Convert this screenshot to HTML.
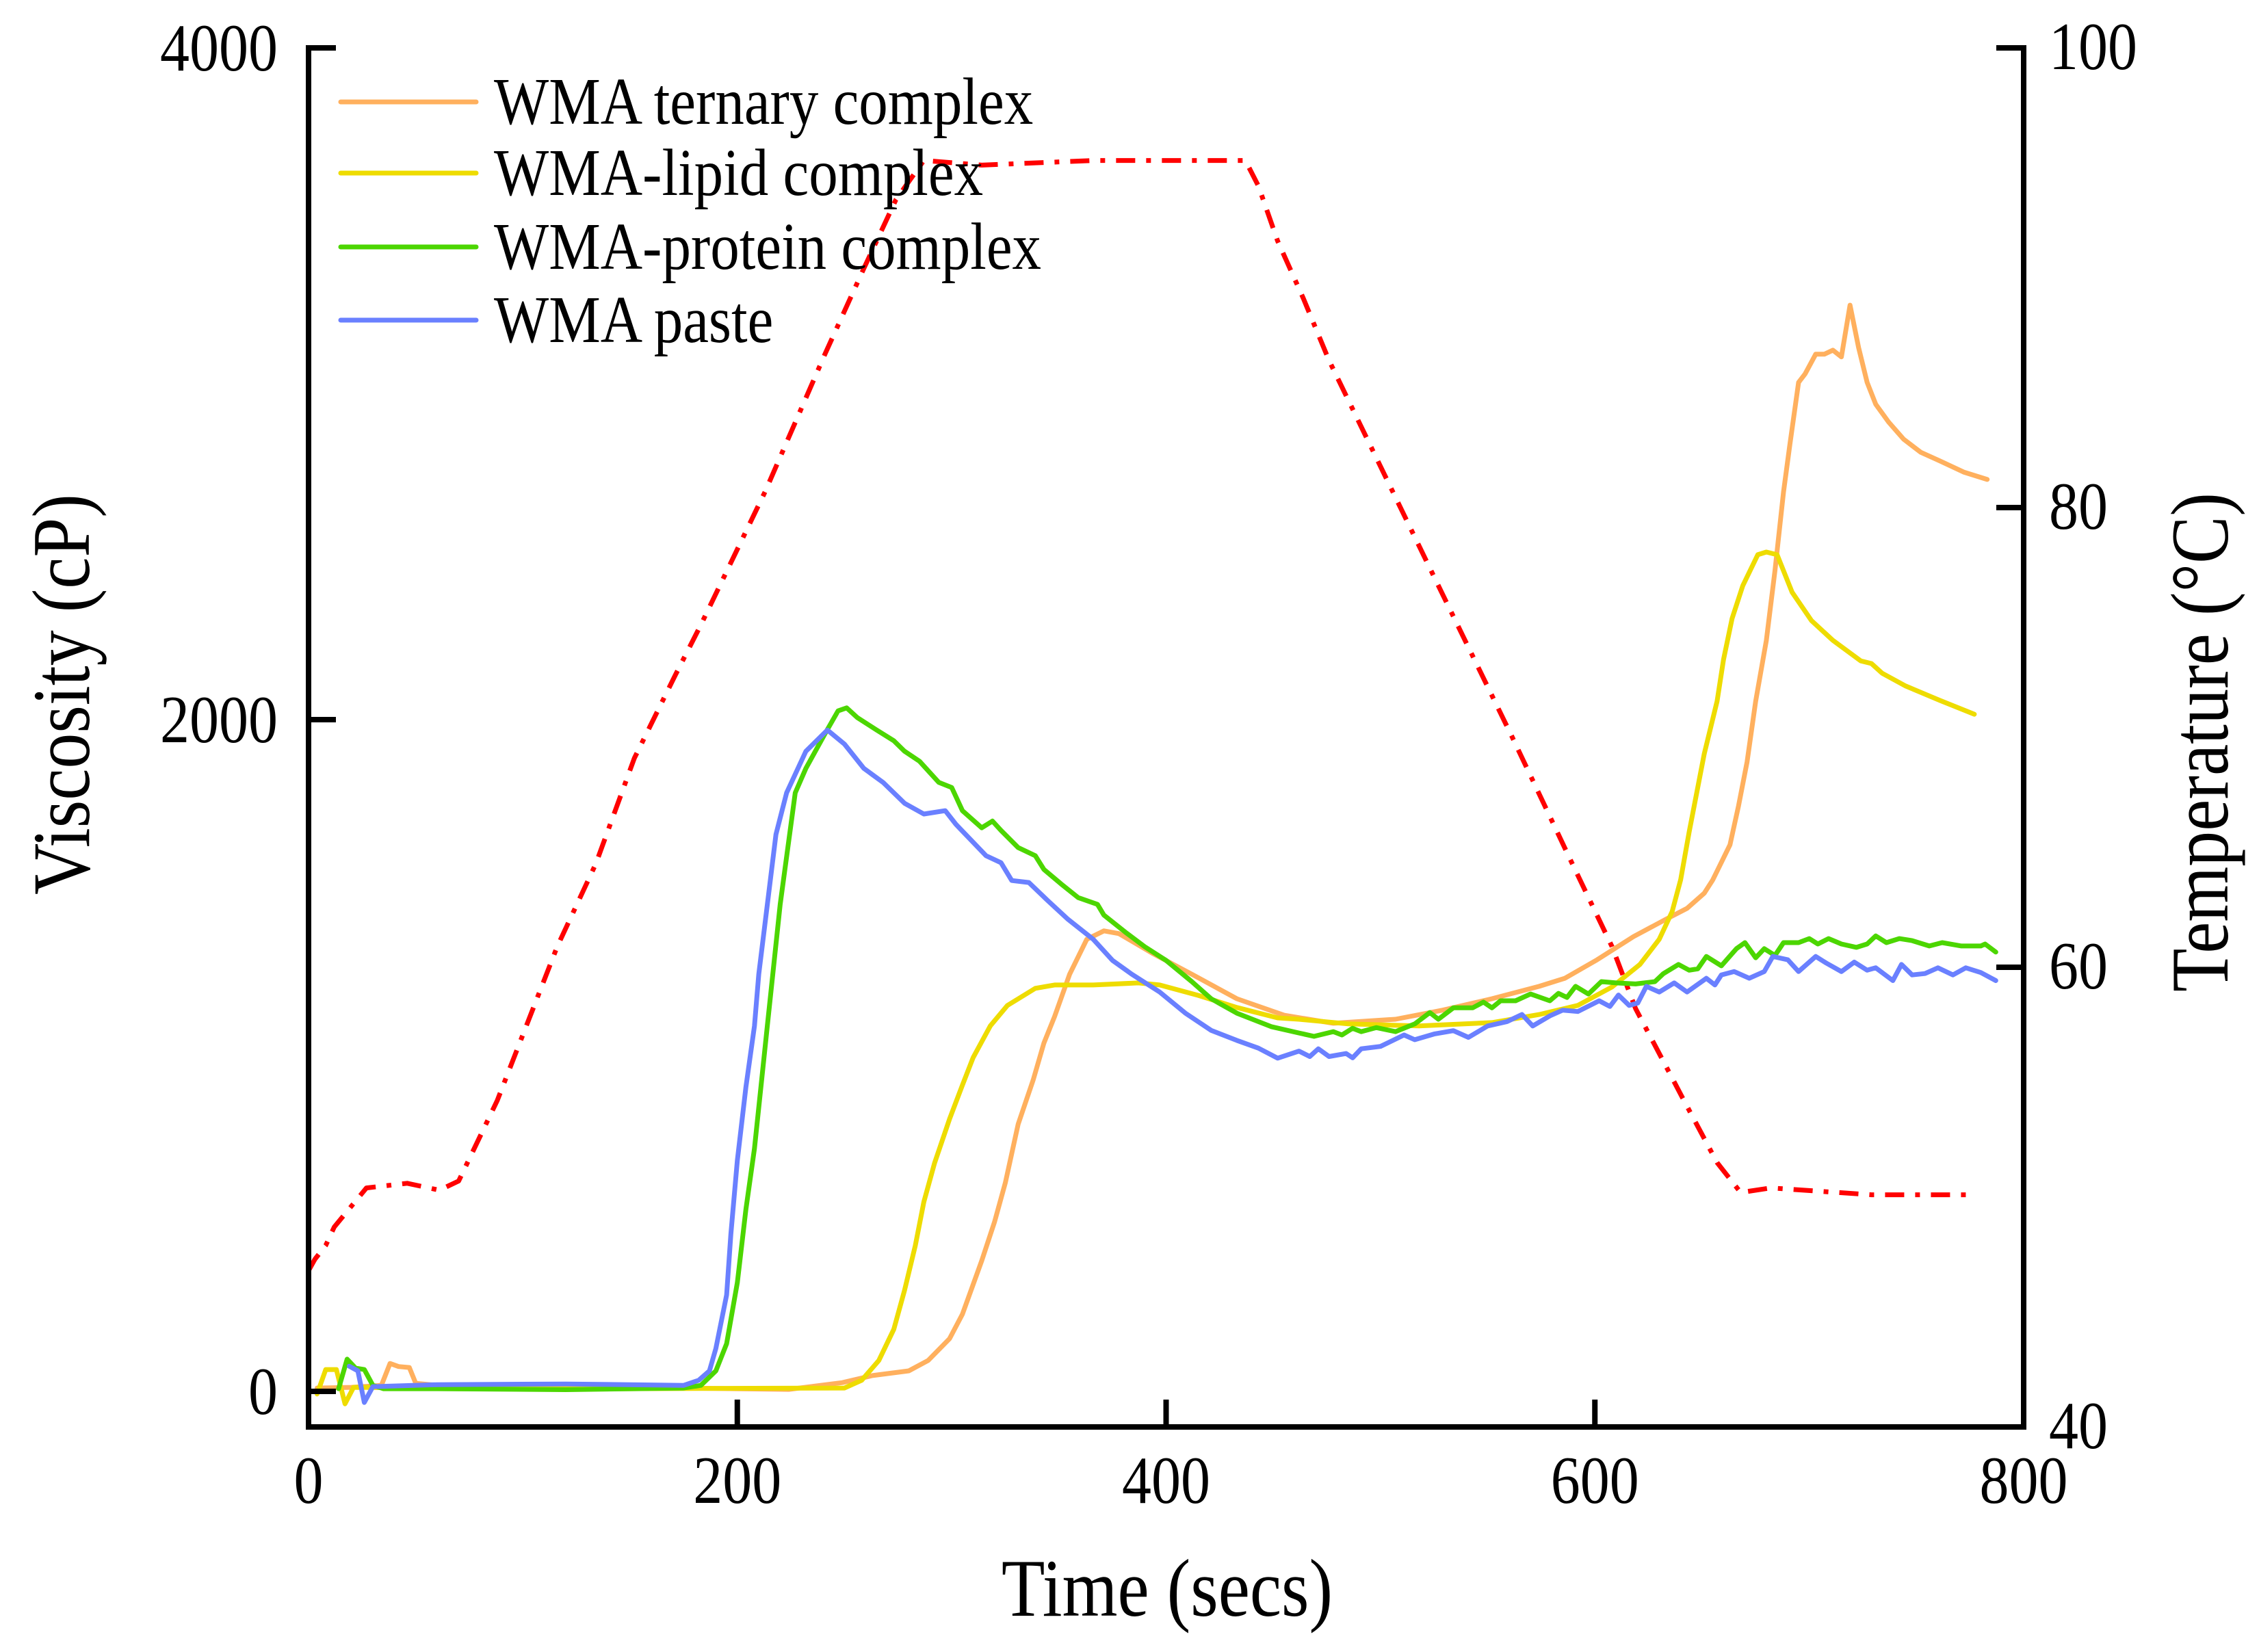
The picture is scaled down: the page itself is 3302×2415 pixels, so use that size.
<!DOCTYPE html>
<html><head><meta charset="utf-8"><style>
html,body{margin:0;padding:0;background:#fff;}
svg{display:block;font-family:"Liberation Serif","Times New Roman",serif;}
</style></head><body>
<svg id="chart" width="3302" height="2415" viewBox="0 0 3302 2415" xmlns="http://www.w3.org/2000/svg">
<rect width="3302" height="2415" fill="#fff"/>
<g id="series"></g>
<g id="axes"></g>
<g id="legend"></g>
</svg>
<script>
const xTicks = [0, 200, 400, 600, 800];
const yTicks = [0, 2000, 4000];
const y2Ticks = [40, 60, 80, 100];

const tempTime = [0, 3, 8, 12, 27, 46, 61, 70, 88, 116, 134, 152, 171, 183, 213, 241, 259, 274, 287, 314, 366, 437, 443, 452, 464, 476, 527, 561, 590, 608, 619, 632, 641, 657, 668, 682, 729, 775];
const tempValue = [46.8, 47.3, 47.9, 48.7, 50.4, 50.6, 50.3, 50.7, 54.2, 60.9, 64.5, 69.1, 72.7, 74.9, 80.7, 86.7, 90.4, 93.4, 95.1, 94.9, 95.1, 95.1, 94.0, 91.6, 89.1, 86.4, 76.6, 70.1, 64.4, 60.9, 58.2, 55.9, 54.3, 51.5, 50.2, 50.4, 50.1, 50.1];

const ternaryTime = [4, 20, 34, 38, 42, 47, 50, 60, 120, 175, 224, 249, 263, 280, 289, 299, 305, 314, 320, 325, 331, 338, 343, 348, 355, 363, 371, 378, 394, 412, 433, 455, 478, 507, 529, 552, 574, 586, 601, 618, 633, 643, 651, 655, 663, 667, 671, 675, 680, 684, 688, 691, 695, 698, 703, 707, 711, 715, 719, 723, 727, 731, 737, 744, 752, 761, 772, 783];
const ternaryValue = [10, 12, 18, 83, 74, 71, 24, 18, 14, 10, 6, 26, 47, 61, 92, 157, 230, 389, 505, 621, 796, 927, 1037, 1116, 1242, 1346, 1371, 1363, 1303, 1242, 1169, 1120, 1096, 1108, 1135, 1169, 1206, 1230, 1285, 1354, 1405, 1438, 1483, 1523, 1627, 1743, 1874, 2055, 2236, 2444, 2678, 2821, 3004, 3029, 3088, 3088, 3100, 3080, 3234, 3108, 3004, 2939, 2886, 2835, 2796, 2770, 2737, 2715];

const lipidTime = [4, 8, 13, 17, 21, 60, 150, 250, 258, 266, 273, 278, 283, 287, 292, 299, 305, 310, 318, 326, 339, 348, 366, 387, 397, 415, 433, 452, 462, 485, 518, 552, 574, 592, 608, 621, 630, 636, 640, 644, 651, 657, 660, 664, 669, 676, 680, 685, 692, 701, 711, 724, 729, 734, 745, 761, 777];
const lipidValue = [-8, 65, 65, -37, 12, 10, 8, 10, 33, 92, 185, 301, 434, 564, 680, 811, 912, 994, 1088, 1149, 1200, 1210, 1210, 1216, 1210, 1179, 1143, 1112, 1108, 1094, 1088, 1098, 1122, 1149, 1204, 1271, 1346, 1428, 1523, 1666, 1898, 2055, 2179, 2301, 2399, 2491, 2499, 2491, 2379, 2295, 2236, 2175, 2167, 2138, 2100, 2057, 2016];

const proteinTime = [14, 18, 22, 26, 30, 35, 60, 120, 175, 183, 190, 195, 200, 204, 208, 214, 220, 227, 232, 241, 247, 251, 256, 265, 273, 278, 285, 294, 300, 305, 314, 319, 323, 331, 339, 343, 351, 359, 368, 371, 381, 390, 400, 412, 421, 433, 449, 462, 469, 478, 482, 487, 491, 498, 507, 516, 523, 527, 534, 543, 548, 552, 556, 563, 570, 579, 583, 587, 591, 597, 603, 610, 619, 628, 632, 639, 644, 648, 652, 659, 666, 670, 675, 679, 684, 688, 695, 700, 704, 709, 715, 722, 727, 731, 736, 742, 748, 756, 762, 771, 780, 782, 787];
const proteinValue = [8, 96, 69, 65, 18, 8, 8, 5, 10, 18, 61, 142, 324, 542, 723, 1088, 1450, 1782, 1855, 1959, 2026, 2035, 2006, 1969, 1937, 1906, 1876, 1813, 1798, 1729, 1678, 1698, 1670, 1619, 1595, 1554, 1511, 1470, 1450, 1418, 1367, 1324, 1283, 1220, 1169, 1126, 1086, 1067, 1057, 1071, 1061, 1081, 1071, 1083, 1071, 1094, 1128, 1108, 1142, 1142, 1159, 1142, 1163, 1163, 1183, 1163, 1185, 1173, 1206, 1183, 1220, 1216, 1213, 1220, 1244, 1271, 1254, 1258, 1295, 1267, 1318, 1336, 1291, 1318, 1298, 1336, 1336, 1348, 1332, 1348, 1332, 1322, 1332, 1356, 1336, 1348, 1342, 1326, 1336, 1326, 1326, 1332, 1308];

const pasteTime = [19, 23, 26, 30, 60, 120, 175, 182, 187, 190, 195, 197, 200, 204, 208, 210, 218, 223, 232, 242, 250, 259, 268, 278, 287, 297, 302, 316, 323, 328, 336, 345, 354, 366, 375, 384, 397, 409, 421, 433, 443, 452, 462, 467, 471, 476, 484, 487, 491, 500, 511, 516, 525, 534, 541, 550, 559, 566, 571, 579, 585, 592, 602, 607, 611, 616, 620, 624, 630, 637, 643, 652, 656, 659, 665, 672, 679, 683, 690, 695, 703, 708, 715, 721, 727, 731, 739, 743, 748, 754, 760, 767, 773, 780, 787];
const pasteValue = [75, 61, -33, 14, 20, 22, 18, 33, 61, 128, 287, 468, 688, 906, 1088, 1242, 1658, 1782, 1906, 1969, 1927, 1855, 1813, 1751, 1719, 1729, 1688, 1595, 1574, 1521, 1515, 1460, 1407, 1346, 1283, 1242, 1189, 1126, 1075, 1045, 1022, 992, 1013, 997, 1020, 997, 1006, 993, 1020, 1027, 1061, 1047, 1064, 1074, 1054, 1088, 1101, 1122, 1088, 1118, 1135, 1131, 1163, 1146, 1180, 1149, 1156, 1206, 1189, 1216, 1189, 1230, 1210, 1240, 1250, 1230, 1250, 1295, 1285, 1250, 1295, 1275, 1250, 1278, 1254, 1261, 1223, 1271, 1240, 1244, 1261, 1240, 1261, 1247, 1223];

const seriesNames = ["WMA ternary complex", "WMA-lipid complex", "WMA-protein complex", "WMA paste"];

const X0 = 451, X1 = 2958, YV0 = 2034, YV4000 = 70, YT40 = 2086, YT100 = 70, YBOT = 2086, YTOP = 70;
function xScale(t) { return X0 + (t - 0) / 800 * (X1 - X0); }
function yScale(v) { return YV0 + (v / 4000) * (YV4000 - YV0); }
function y2Scale(T) { return YT40 + (T - 40) / 60 * (YT100 - YT40); }

const NS = "http://www.w3.org/2000/svg";
function mk(tag, attrs, parent) {
  const e = document.createElementNS(NS, tag);
  for (const k in attrs) e.setAttribute(k, attrs[k]);
  parent.appendChild(e);
  return e;
}
// text placed at (x,y) and stretched vertically like the reference font
function txt(parent, x, y, str, size, anchor, rot) {
  const tr = `translate(${x} ${y})` + (rot ? ' rotate(-90)' : '') + ' scale(1 1.15)';
  const e = mk('text', {x: 0, y: 0, 'text-anchor': anchor, 'font-size': size, transform: tr}, parent);
  e.textContent = str;
  return e;
}
const gS = document.getElementById('series');
const gA = document.getElementById('axes');
const gL = document.getElementById('legend');

function pathFrom(ts, vs, ys) {
  return ts.map((t, i) => (i ? 'L' : 'M') + xScale(t).toFixed(1) + ' ' + ys(vs[i]).toFixed(1)).join(' ');
}

const tl = mk('path', {d: pathFrom(tempTime, tempValue, y2Scale), fill: 'none', stroke: '#ff0000', 'stroke-width': 7, 'stroke-dasharray': '28 16 7 16', 'stroke-linejoin': 'round'}, gS);



const colors = ['#ffb05e', '#eedc00', '#4cd600', '#6a80ff'];
const sets = [[ternaryTime, ternaryValue], [lipidTime, lipidValue], [proteinTime, proteinValue], [pasteTime, pasteValue]];
const lineNames = ['ternary-complex-line', 'lipid-complex-line', 'protein-complex-line', 'paste-line'];
sets.forEach((s, i) => {
  const p = mk('path', {d: pathFrom(s[0], s[1], yScale), fill: 'none', stroke: colors[i], 'stroke-width': 7, 'stroke-linejoin': 'round', 'stroke-linecap': 'round'}, gS);
  
  
});

const ax = mk('path', {d: `M${X0} ${YTOP} L${X0} ${YBOT} L${X1} ${YBOT} L${X1} ${YTOP}`, fill: 'none', stroke: '#000', 'stroke-width': 8, 'stroke-linecap': 'square'}, gA);



yTicks.forEach(v => {
  const y = yScale(v);
  const t = mk('line', {x1: X0, x2: X0 + 40, y1: y, y2: y, stroke: '#000', 'stroke-width': 8}, gA);
  
  
  const l = txt(gA, 406, y + 33, String(v), 86, 'end', false);
  
  
});
y2Ticks.forEach(v => {
  const y = y2Scale(v);
  const t = mk('line', {x1: X1 - 40, x2: X1, y1: y, y2: y, stroke: '#000', 'stroke-width': 8}, gA);
  
  
  const l = txt(gA, 2995, y + 31, String(v), 86, 'start', false);
  
  
});
xTicks.forEach(v => {
  const x = xScale(v);
  const t = mk('line', {x1: x, x2: x, y1: YBOT - 40, y2: YBOT, stroke: '#000', 'stroke-width': 8}, gA);
  
  
  const l = txt(gA, x, 2197, String(v), 86, 'middle', false);
  
  
});

const xt = txt(gA, 1706, 2362, 'Time (secs)', 104, 'middle', false);


const yt = txt(gA, 130, 1015, 'Viscosity (cP)', 104, 'middle', true);


const y2t = txt(gA, 3256, 1085, 'Temperature (°C)', 104, 'middle', true);



const legY = [149, 253, 361, 468];
seriesNames.forEach((n, i) => {
  const ln = mk('line', {x1: 498, x2: 696, y1: legY[i], y2: legY[i], stroke: colors[i], 'stroke-width': 7, 'stroke-linecap': 'round'}, gL);
  
  
  const tx = txt(gL, 722, legY[i] + 32, n, 85, 'start', false);
  
  
});
</script>
</body></html>
